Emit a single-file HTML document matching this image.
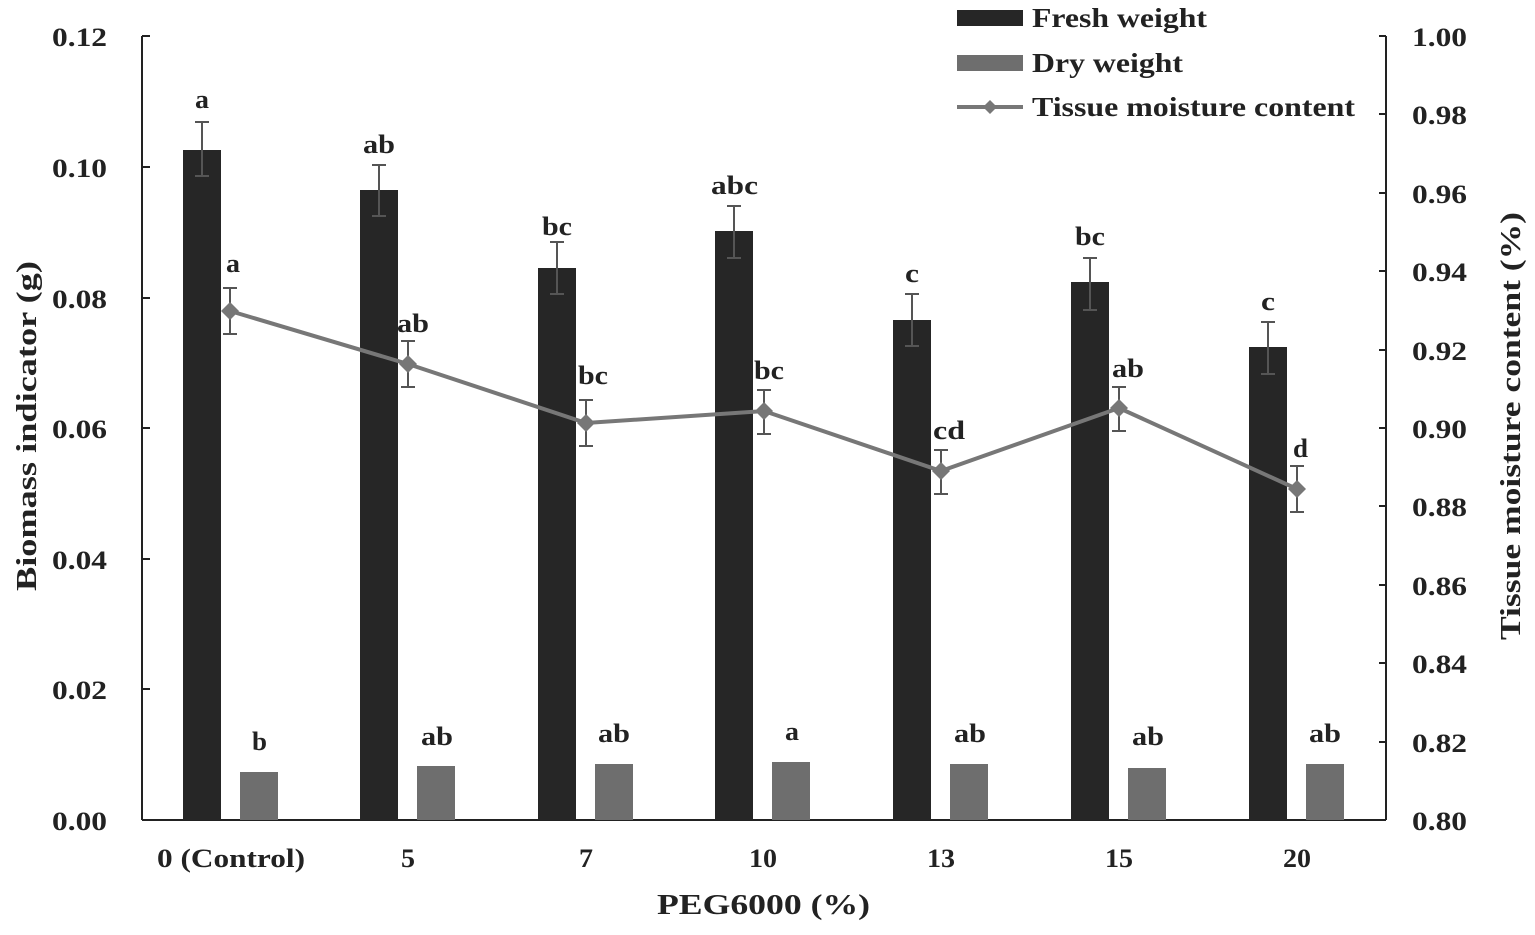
<!DOCTYPE html>
<html><head><meta charset="utf-8"><style>
html,body{margin:0;padding:0;background:#fff;}
text{font-family:"Liberation Serif",serif;font-weight:bold;fill:#222;}
</style></head><body>
<svg width="1535" height="930" xmlns="http://www.w3.org/2000/svg">
<g stroke="#222" stroke-width="2" fill="none">
<line x1="142" y1="36" x2="142" y2="820"/>
<line x1="142" y1="820" x2="1386" y2="820"/>
<line x1="1386" y1="36" x2="1386" y2="820"/>
<line x1="142" y1="36" x2="150" y2="36"/><line x1="142" y1="167" x2="150" y2="167"/><line x1="142" y1="298" x2="150" y2="298"/><line x1="142" y1="428" x2="150" y2="428"/><line x1="142" y1="559" x2="150" y2="559"/><line x1="142" y1="689" x2="150" y2="689"/>
<line x1="1379" y1="36" x2="1386" y2="36"/><line x1="1379" y1="114" x2="1386" y2="114"/><line x1="1379" y1="193" x2="1386" y2="193"/><line x1="1379" y1="271" x2="1386" y2="271"/><line x1="1379" y1="350" x2="1386" y2="350"/><line x1="1379" y1="428" x2="1386" y2="428"/><line x1="1379" y1="506" x2="1386" y2="506"/><line x1="1379" y1="585" x2="1386" y2="585"/><line x1="1379" y1="663" x2="1386" y2="663"/><line x1="1379" y1="742" x2="1386" y2="742"/>
</g>
<g font-size="26">
<text x="52" y="46" textLength="55" lengthAdjust="spacingAndGlyphs">0.12</text><text x="52" y="177" textLength="55" lengthAdjust="spacingAndGlyphs">0.10</text><text x="52" y="308" textLength="55" lengthAdjust="spacingAndGlyphs">0.08</text><text x="52" y="438" textLength="55" lengthAdjust="spacingAndGlyphs">0.06</text><text x="52" y="569" textLength="55" lengthAdjust="spacingAndGlyphs">0.04</text><text x="52" y="699" textLength="55" lengthAdjust="spacingAndGlyphs">0.02</text><text x="52" y="830" textLength="55" lengthAdjust="spacingAndGlyphs">0.00</text>
<text x="1412" y="46" textLength="55" lengthAdjust="spacingAndGlyphs">1.00</text><text x="1412" y="124" textLength="55" lengthAdjust="spacingAndGlyphs">0.98</text><text x="1412" y="203" textLength="55" lengthAdjust="spacingAndGlyphs">0.96</text><text x="1412" y="281" textLength="55" lengthAdjust="spacingAndGlyphs">0.94</text><text x="1412" y="360" textLength="55" lengthAdjust="spacingAndGlyphs">0.92</text><text x="1412" y="438" textLength="55" lengthAdjust="spacingAndGlyphs">0.90</text><text x="1412" y="516" textLength="55" lengthAdjust="spacingAndGlyphs">0.88</text><text x="1412" y="595" textLength="55" lengthAdjust="spacingAndGlyphs">0.86</text><text x="1412" y="673" textLength="55" lengthAdjust="spacingAndGlyphs">0.84</text><text x="1412" y="752" textLength="55" lengthAdjust="spacingAndGlyphs">0.82</text><text x="1412" y="830" textLength="55" lengthAdjust="spacingAndGlyphs">0.80</text>
</g>
<g font-size="26">
<text x="157" y="867" textLength="148" lengthAdjust="spacingAndGlyphs">0 (Control)</text>
<text x="401" y="867" textLength="14" lengthAdjust="spacingAndGlyphs">5</text>
<text x="579" y="867" textLength="14" lengthAdjust="spacingAndGlyphs">7</text>
<text x="749" y="867" textLength="28" lengthAdjust="spacingAndGlyphs">10</text>
<text x="927" y="867" textLength="28" lengthAdjust="spacingAndGlyphs">13</text>
<text x="1105" y="867" textLength="28" lengthAdjust="spacingAndGlyphs">15</text>
<text x="1283" y="867" textLength="28" lengthAdjust="spacingAndGlyphs">20</text>
</g>
<text x="657" y="914" font-size="29" textLength="213" lengthAdjust="spacingAndGlyphs">PEG6000 (%)</text>
<text font-size="29" transform="translate(36,591) rotate(-90)" textLength="330" lengthAdjust="spacingAndGlyphs">Biomass indicator (g)</text>
<text font-size="29" transform="translate(1520,640) rotate(-90)" textLength="428" lengthAdjust="spacingAndGlyphs">Tissue moisture content (%)</text>
<g fill="#262626">
<rect x="183" y="150" width="38" height="670"/>
<rect x="360" y="190" width="38" height="630"/>
<rect x="538" y="268" width="38" height="552"/>
<rect x="715" y="231" width="38" height="589"/>
<rect x="893" y="320" width="38" height="500"/>
<rect x="1071" y="282" width="38" height="538"/>
<rect x="1249" y="347" width="38" height="473"/>
</g>
<g fill="#6e6e6e">
<rect x="240" y="772" width="38" height="48"/>
<rect x="417" y="766" width="38" height="54"/>
<rect x="595" y="764" width="38" height="56"/>
<rect x="772" y="762" width="38" height="58"/>
<rect x="950" y="764" width="38" height="56"/>
<rect x="1128" y="768" width="38" height="52"/>
<rect x="1306" y="764" width="38" height="56"/>
</g>
<g stroke="#555" stroke-width="2">
<path d="M202 122V176M195 122H209M195 176H209"/>
<path d="M379 165V216M372 165H386M372 216H386"/>
<path d="M557 242V294M550 242H564M550 294H564"/>
<path d="M734 206V258M727 206H741M727 258H741"/>
<path d="M912 294V346M905 294H919M905 346H919"/>
<path d="M1090 258V310M1083 258H1097M1083 310H1097"/>
<path d="M1268 322V374M1261 322H1275M1261 374H1275"/>
<path d="M230 288V334M223 288H237M223 334H237"/>
<path d="M408 341V387M401 341H415M401 387H415"/>
<path d="M586 400V446M579 400H593M579 446H593"/>
<path d="M764 390V434M757 390H771M757 434H771"/>
<path d="M941 450V494M934 450H948M934 494H948"/>
<path d="M1119 387V431M1112 387H1126M1112 431H1126"/>
<path d="M1297 466V512M1290 466H1304M1290 512H1304"/>
</g>
<polyline points="230,311 408,364 586,423 764,411 941,471 1119,408 1297,489" fill="none" stroke="#777" stroke-width="4"/>
<g fill="#777">
<path d="M230 302l9 9-9 9-9-9z"/><path d="M408 355l9 9-9 9-9-9z"/><path d="M586 414l9 9-9 9-9-9z"/><path d="M764 402l9 9-9 9-9-9z"/><path d="M941 462l9 9-9 9-9-9z"/><path d="M1119 399l9 9-9 9-9-9z"/><path d="M1297 480l9 9-9 9-9-9z"/>
</g>
<g font-size="26">
<text x="195" y="108" textLength="14" lengthAdjust="spacingAndGlyphs">a</text>
<text x="363" y="153" textLength="32" lengthAdjust="spacingAndGlyphs">ab</text>
<text x="542" y="235" textLength="30" lengthAdjust="spacingAndGlyphs">bc</text>
<text x="711" y="194" textLength="47" lengthAdjust="spacingAndGlyphs">abc</text>
<text x="905" y="282" textLength="14" lengthAdjust="spacingAndGlyphs">c</text>
<text x="1075" y="245" textLength="30" lengthAdjust="spacingAndGlyphs">bc</text>
<text x="1261" y="310" textLength="14" lengthAdjust="spacingAndGlyphs">c</text>
<text x="226" y="272" textLength="14" lengthAdjust="spacingAndGlyphs">a</text>
<text x="397" y="332" textLength="32" lengthAdjust="spacingAndGlyphs">ab</text>
<text x="578" y="384" textLength="30" lengthAdjust="spacingAndGlyphs">bc</text>
<text x="754" y="379" textLength="30" lengthAdjust="spacingAndGlyphs">bc</text>
<text x="933" y="439" textLength="32" lengthAdjust="spacingAndGlyphs">cd</text>
<text x="1112" y="377" textLength="32" lengthAdjust="spacingAndGlyphs">ab</text>
<text x="1293" y="457" textLength="15" lengthAdjust="spacingAndGlyphs">d</text>
<text x="252" y="750" textLength="15" lengthAdjust="spacingAndGlyphs">b</text>
<text x="421" y="745" textLength="32" lengthAdjust="spacingAndGlyphs">ab</text>
<text x="598" y="742" textLength="32" lengthAdjust="spacingAndGlyphs">ab</text>
<text x="785" y="740" textLength="14" lengthAdjust="spacingAndGlyphs">a</text>
<text x="954" y="742" textLength="32" lengthAdjust="spacingAndGlyphs">ab</text>
<text x="1132" y="745" textLength="32" lengthAdjust="spacingAndGlyphs">ab</text>
<text x="1309" y="742" textLength="32" lengthAdjust="spacingAndGlyphs">ab</text>
</g>
<rect x="957" y="10" width="66" height="16" fill="#262626"/>
<rect x="957" y="55" width="66" height="16" fill="#6e6e6e"/>
<line x1="957" y1="107" x2="1023" y2="107" stroke="#777" stroke-width="4"/>
<path d="M990 100l7 7-7 7-7-7z" fill="#777"/>
<g font-size="27">
<text x="1032" y="27" textLength="175" lengthAdjust="spacingAndGlyphs">Fresh weight</text>
<text x="1032" y="72" textLength="151" lengthAdjust="spacingAndGlyphs">Dry weight</text>
<text x="1032" y="116" textLength="323" lengthAdjust="spacingAndGlyphs">Tissue moisture content</text>
</g>
</svg>
</body></html>
